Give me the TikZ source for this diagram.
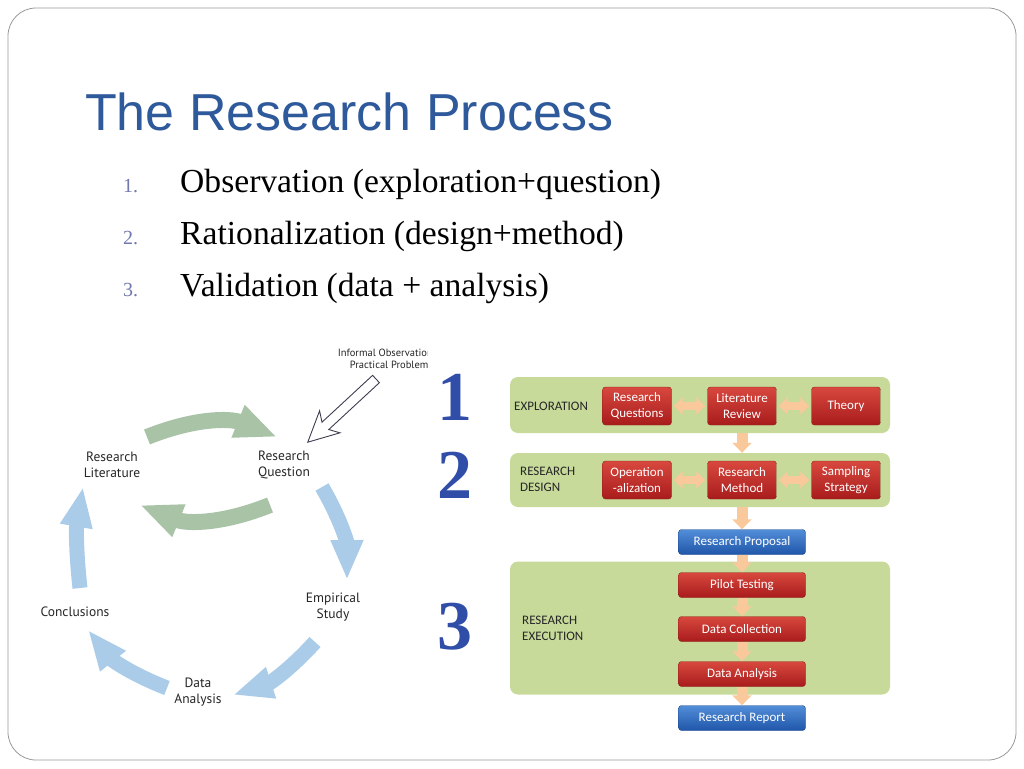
\documentclass[tikz,border=0pt]{standalone}
\usepackage{fontspec}
\setmainfont{Liberation Serif}
\newfontfamily\titlefont{Liberation Sans}
\newfontfamily\cyclefont{PT Sans}
\newfontfamily\boxfont{Carlito}
\newfontfamily\bignumfont{Liberation Serif}[BoldFont={* Bold}]
\usetikzlibrary{arrows.meta,calc}

\definecolor{titleblue}{RGB}{46,89,155}
\definecolor{numgray}{RGB}{112,120,172}
\definecolor{cycleblue}{RGB}{170,204,232}
\definecolor{cyclegreen}{RGB}{168,195,166}
\definecolor{panelgreen}{RGB}{199,218,154}
\definecolor{redtop}{RGB}{216,72,62}
\definecolor{redbot}{RGB}{168,28,28}
\definecolor{redline}{RGB}{140,30,30}
\definecolor{bluetop}{RGB}{82,142,216}
\definecolor{bluebot}{RGB}{32,86,170}
\definecolor{blueline}{RGB}{30,70,140}
\definecolor{peach}{RGB}{249,201,156}
\definecolor{bignumblue}{RGB}{48,78,168}
\definecolor{outline}{RGB}{60,62,80}

\begin{document}
\begin{tikzpicture}[x=1pt,y=-1pt,
  cyclelabel/.style={font=\cyclefont\fontsize{13.5}{16}\selectfont, text=black!85, align=center, inner sep=1pt},
  bluearr/.style={line width=15pt, draw=cycleblue, -{Triangle[width=30pt,length=40pt]}},
  greenarr/.style={line width=16pt, draw=cyclegreen, -{Triangle[width=32pt,length=42pt]}},
  hollowarr/.style={draw=outline, fill=white, line width=0.9pt, line join=miter},
  panel/.style={fill=panelgreen, rounded corners=8pt, minimum width=380pt, inner sep=0pt},
  panellabel/.style={font=\boxfont\fontsize{13}{16}\selectfont, text=black!85, align=left, anchor=west, inner sep=0pt},
  redbox/.style={draw=redline, rounded corners=3pt, top color=redtop, bottom color=redbot,
    text=white, font=\boxfont\fontsize{13}{15.5}\selectfont, align=center, inner sep=1pt},
  pairbox/.style={redbox, minimum width=69pt, minimum height=38pt},
  rowbox/.style={redbox, minimum width=127pt, minimum height=25pt},
  bluebox/.style={rowbox, draw=blueline, top color=bluetop, bottom color=bluebot},
  sidearr/.style={line width=8pt, draw=peach, {Triangle[width=17pt,length=9pt]}-{Triangle[width=17pt,length=9pt]}, shorten <=2pt, shorten >=2pt},
  downarr/.style={line width=11pt, draw=peach, -{Triangle[width=19pt,length=10pt]}},
  bignum/.style={font=\bignumfont\bfseries\fontsize{70}{70}\selectfont, text=bignumblue, inner sep=0pt}]

\useasboundingbox (0,0) rectangle (1024,768);
\draw[black!40, line width=0.8pt, rounded corners=28pt] (8,8) rectangle (1016,760);

% title and list
\node[anchor=base west, inner sep=0pt, font=\titlefont\fontsize{52}{60}\selectfont, text=titleblue] (title) at (85,130) {The Research Process};

\node[anchor=base west, inner sep=0pt, font=\fontsize{20}{24}\selectfont, text=numgray] (num1) at (123,192) {1.};
\node[anchor=base west, inner sep=0pt, font=\fontsize{20}{24}\selectfont, text=numgray] (num2) at (123,244) {2.};
\node[anchor=base west, inner sep=0pt, font=\fontsize{20}{24}\selectfont, text=numgray] (num3) at (123,296) {3.};
\node[anchor=base west, inner sep=0pt, font=\fontsize{33.6}{40}\selectfont] (item1) at (180,192) {Observation (exploration+question)};
\node[anchor=base west, inner sep=0pt, font=\fontsize{33.6}{40}\selectfont] (item2) at (180,244) {Rationalization (design+method)};
\node[anchor=base west, inner sep=0pt, font=\fontsize{33.6}{40}\selectfont] (item3) at (180,296) {Validation (data + analysis)};

% research cycle
\node[cyclelabel] (lit) at (112,465) {Research\\Literature};
\node[cyclelabel] (rq) at (284,465) {Research\\Question};
\node[cyclelabel] (es) at (333,607) {Empirical\\Study};
\node[cyclelabel] (concl) at (75,612) {Conclusions};
\node[cyclelabel] (da) at (198,692) {Data\\Analysis};

\begin{scope}
\clip (300,340) rectangle (427,380);
\node[cyclelabel, font=\cyclefont\fontsize{10.5}{12}\selectfont, align=right, anchor=north east] (info) at (434,348) {Informal Observation\\Practical Problems};
\end{scope}
% hollow arrow into the question
\draw[hollowarr, shift={(376,379)}, rotate=222.8]
  (0,-5) -- (69,-5) -- (63,-15) -- (93,0) -- (63,15) -- (69,5) -- (0,5) -- cycle;

\draw[greenarr] ($(lit)+(35,-28)$) to[bend left=22] ($(rq)+(-7,-28)$);
\draw[greenarr] ($(rq)+(-14,40)$) to[bend left=22] ($(lit)+(28,40)$);
\draw[bluearr] ($(rq)+(38,22)$) to[bend left=15] ($(es)+(14,-27)$);
\draw[bluearr] ($(es)+(-18,35)$) to[bend left=15] ($(da)+(35,3)$);
\draw[bluearr] ($(da)+(-31,-4)$) to[bend left=15] ($(concl)+(13,18)$);
\draw[bluearr] ($(concl)+(5,-24)$) to[bend left=8] ($(lit)+(-29,22)$);

% big step numbers
\node[bignum] (one) at (455,397) {1};
\node[bignum] (two) at (455,475) {2};
\node[bignum] (three) at (455,627) {3};

% panels
\node[panel, minimum height=56pt] (explore) at (700,405) {};
\node[panel, minimum height=54pt] (design) at (700,480) {};
\node[panel, minimum height=133pt] (execute) at (700,628) {};
\node[panellabel] (explorelabel) at (514,406) {EXPLORATION};
\node[panellabel] (designlabel) at (520,479) {RESEARCH\\DESIGN};
\node[panellabel] (executelabel) at (522,628) {RESEARCH\\EXECUTION};

\node[pairbox] (rquest) at (637,406) {Research\\Questions};
\node[pairbox] (litrev) at (742,406) {Literature\\Review};
\node[pairbox] (theory) at (846,406) {Theory};
\node[pairbox] (oper) at (637,480) {Operation\\-alization};
\node[pairbox] (method) at (742,480) {Research\\Method};
\node[pairbox] (sampling) at (846,480) {Sampling\\Strategy};

\node[bluebox] (proposal) at (742,542) {Research Proposal};
\node[rowbox] (pilot) at (742,585) {Pilot Testing};
\node[rowbox] (collect) at (742,629) {Data Collection};
\node[rowbox] (analysis) at (742,674) {Data Analysis};
\node[bluebox] (report) at (742,718) {Research Report};

\draw[sidearr] (rquest) -- (litrev);
\draw[sidearr] (litrev) -- (theory);
\draw[sidearr] (oper) -- (method);
\draw[sidearr] (method) -- (sampling);

\draw[downarr] (litrev |- explore.south) -- (method |- design.north);
\draw[downarr] (method |- design.south) -- (proposal.north);
\draw[downarr] (proposal) -- (pilot);
\draw[downarr] (pilot) -- (collect);
\draw[downarr] (collect) -- (analysis);
\draw[downarr] (analysis) -- (report);

\end{tikzpicture}
\end{document}
